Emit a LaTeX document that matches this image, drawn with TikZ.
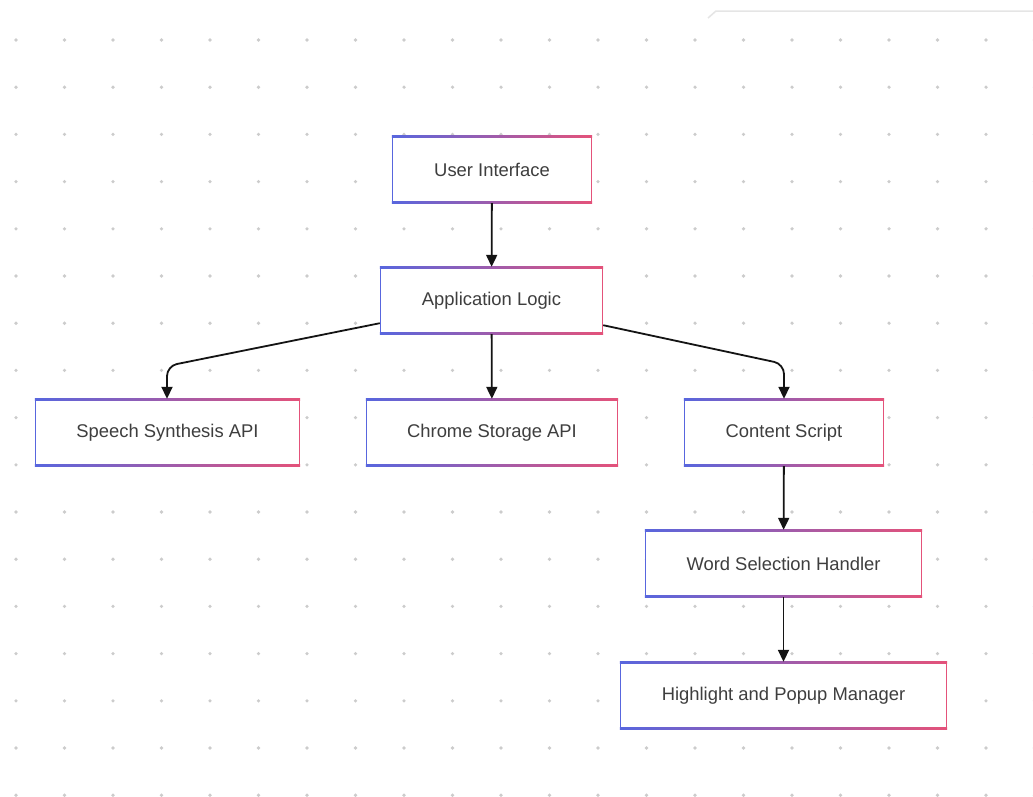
\documentclass[tikz,border=0pt]{standalone}
\usepackage{fontspec}
\setmainfont{Liberation Sans}
\usetikzlibrary{arrows.meta}
\definecolor{bordL}{RGB}{88,102,222}
\definecolor{bordR}{RGB}{228,82,122}
\definecolor{txt}{RGB}{62,62,62}
\definecolor{dotc}{RGB}{204,204,204}
\definecolor{arrc}{RGB}{20,20,20}
\tikzset{
  box/.style={rectangle, fill=white, text=txt, inner sep=0pt,
    font=\fontsize{18.4}{22}\selectfont},
  arr/.style={draw=arrc, line width=1.8pt, -{Triangle[length=12pt,width=11pt]}},
}
\newcommand\gradborder[1]{%
  \shade[left color=bordL, right color=bordR] (#1.north west) rectangle ([yshift=-1.6pt]#1.north east);
  \shade[left color=bordL, right color=bordR] ([yshift=1.6pt]#1.south west) rectangle (#1.south east);
  \fill[bordL] (#1.south west) rectangle ([xshift=1.6pt]#1.north west);
  \fill[bordR] ([xshift=-1.6pt]#1.south east) rectangle (#1.north east);
}
\begin{document}
\begin{tikzpicture}[x=1pt,y=-1pt]
\useasboundingbox[fill=white] (0,0) rectangle (1033,796);
% dotted grid
\foreach \i in {0,...,21}{
  \foreach \j in {0,...,16}{
    \fill[dotc] ({16+48.5*\i},{40+47.2*\j}) circle (1.8pt);
  }
}
% faint top rule
\draw[black!10, line width=1.5pt] (708,18) -- (716,11) -- (1033,11);
% nodes
\node[box, minimum width=200pt, minimum height=67pt] (ui) at (492,169.5) {User Interface};
\node[box, minimum width=223pt, minimum height=67pt] (al) at (491.5,300.5) {Application Logic};
\node[box, minimum width=265pt, minimum height=67pt] (ss) at (167.5,432.5) {Speech Synthesis API};
\node[box, minimum width=252pt, minimum height=67pt] (cs) at (492,432.5) {Chrome Storage API};
\node[box, minimum width=200pt, minimum height=67pt] (ct) at (784,432.5) {Content Script};
\node[box, minimum width=277pt, minimum height=67pt] (ws) at (783.5,563.5) {Word Selection Handler};
\node[box, minimum width=327pt, minimum height=67pt] (hp) at (783.5,695.5) {Highlight and Popup Manager};
\gradborder{ui}
\gradborder{al}
\gradborder{ss}
\gradborder{cs}
\gradborder{ct}
\gradborder{ws}
\gradborder{hp}
% connectors
\coordinate (cl) at (167,366);
\coordinate (cr) at (784,364);
\draw[arr] (ui) -- (al);
\draw[arr] (al) -- (cs);
\draw[arr, rounded corners=10pt] ([yshift=11pt]al.south west) -- (cl) -- (ss.north -| cl);
\draw[arr, rounded corners=10pt] ([yshift=9pt]al.south east) -- (cr) -- (ct.north -| cr);
\draw[arr] (ct) -- (ws);
\draw[arr] (ws) -- (hp);
\end{tikzpicture}
\end{document}
